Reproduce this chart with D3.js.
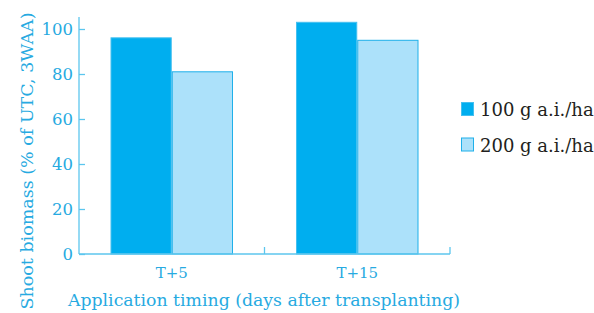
<!DOCTYPE html>
<html>
<head>
<meta charset="utf-8">
<script src="https://cdn.jsdelivr.net/npm/d3@7"></script>
<style>
  body { margin: 0; background: #fff; }
  svg { display: block; font-family: "DejaVu Serif", "Liberation Serif", serif; }
</style>
</head>
<body>
<script>
// data
var timings = ["T+5", "T+15"];
var rates = ["100 g a.i./ha", "200 g a.i./ha"];
var dose100 = [96.3, 103.2];
var dose200 = [81.2, 95.2];
var yTicks = [0, 20, 40, 60, 80, 100];

var w = 594, h = 313;
var left = 79, right = 450, top0 = 17, bottom = 254;
var axisColor = "#5cc6ee";
var textColor = "#27aae1";
var fills = ["#00aeef", "#ace1fa"];
var strokes = ["#45c0f0", "#1fb0ea"];

var svg = d3.select("body").append("svg")
  .attr("width", w)
  .attr("height", h);

var x0 = d3.scaleBand()
  .domain(timings)
  .range([left, right])
  .paddingInner(0)
  .paddingOuter(0);

var x1 = d3.scaleBand()
  .domain(rates)
  .range([31.5, x0.bandwidth() - 31.5]);

var y = d3.scaleLinear()
  .domain([0, 100])
  .range([bottom, bottom - 225]);

var rows = timings.map(function (t, i) {
  return { timing: t, vals: [dose100[i], dose200[i]] };
});

// bars
var groups = svg.selectAll("g.grp")
  .data(rows)
  .enter()
  .append("g")
  .attr("class", "grp")
  .attr("transform", d => "translate(" + x0(d.timing) + ",0)");

groups.selectAll("rect")
  .data(d => d.vals.map((v, j) => ({ rate: rates[j], v: v, j: j })))
  .enter()
  .append("rect")
  .attr("x", d => x1(d.rate) + 0.5)
  .attr("y", d => y(d.v) + 0.5)
  .attr("width", x1.bandwidth() - 1)
  .attr("height", d => y(0) - y(d.v) - 0.5)
  .attr("fill", d => fills[d.j])
  .attr("stroke", d => strokes[d.j])
  .attr("stroke-width", 1);

// y axis
var yAxis = d3.axisRight(y)
  .tickValues(yTicks)
  .tickSize(6)
  .tickFormat("");

var yg = svg.append("g")
  .attr("transform", "translate(" + left + ",0)")
  .call(yAxis);
yg.select(".domain").remove();
yg.selectAll("line").attr("stroke", axisColor).attr("stroke-width", 1.3);
yg.append("line")
  .attr("x1", 0).attr("x2", 0)
  .attr("y1", top0).attr("y2", bottom)
  .attr("stroke", axisColor).attr("stroke-width", 1.3);

svg.selectAll("text.ytick")
  .data(yTicks)
  .enter()
  .append("text")
  .attr("class", "ytick")
  .attr("x", left - 6)
  .attr("y", d => y(d) + 6)
  .attr("text-anchor", "end")
  .attr("fill", textColor)
  .style("font-size", "16.5px")
  .text(d => d);

// x axis
var xg = svg.append("g")
  .attr("transform", "translate(0," + bottom + ")");
xg.append("line")
  .attr("x1", left).attr("x2", right)
  .attr("y1", 0).attr("y2", 0)
  .attr("stroke", axisColor).attr("stroke-width", 1.3);
xg.selectAll("line.xt")
  .data(x0.domain().map(d => x0(d) + x0.bandwidth()))
  .enter()
  .append("line")
  .attr("class", "xt")
  .attr("x1", d => d).attr("x2", d => d)
  .attr("y1", 0).attr("y2", -7)
  .attr("stroke", axisColor).attr("stroke-width", 1.3);

xg.selectAll("text")
  .data(timings)
  .enter()
  .append("text")
  .attr("x", d => x0(d) + x0.bandwidth() / 2)
  .attr("y", 24)
  .attr("text-anchor", "middle")
  .attr("fill", textColor)
  .style("font-size", "15px")
  .text(d => d);

// axis titles
svg.append("text")
  .attr("x", 264)
  .attr("y", 306)
  .attr("text-anchor", "middle")
  .attr("fill", textColor)
  .style("font-size", "17.3px")
  .text("Application timing (days after transplanting)");

svg.append("text")
  .attr("transform", "translate(33,161) rotate(-90)")
  .attr("text-anchor", "middle")
  .attr("fill", textColor)
  .style("font-size", "17.5px")
  .text("Shoot biomass (% of UTC, 3WAA)");

// legend
var leg = svg.selectAll("g.leg")
  .data(rates)
  .enter()
  .append("g")
  .attr("class", "leg")
  .attr("transform", (d, i) => "translate(461," + (102 + i * 35.5) + ")");

leg.append("rect")
  .attr("x", 0.5).attr("y", 0.5)
  .attr("width", 12).attr("height", 13)
  .attr("fill", (d, i) => fills[i])
  .attr("stroke", (d, i) => strokes[i]);

leg.append("text")
  .attr("x", 19)
  .attr("y", 14)
  .attr("fill", "#231f20")
  .style("font-size", "18px")
  .text(d => d);
</script>
</body>
</html>
